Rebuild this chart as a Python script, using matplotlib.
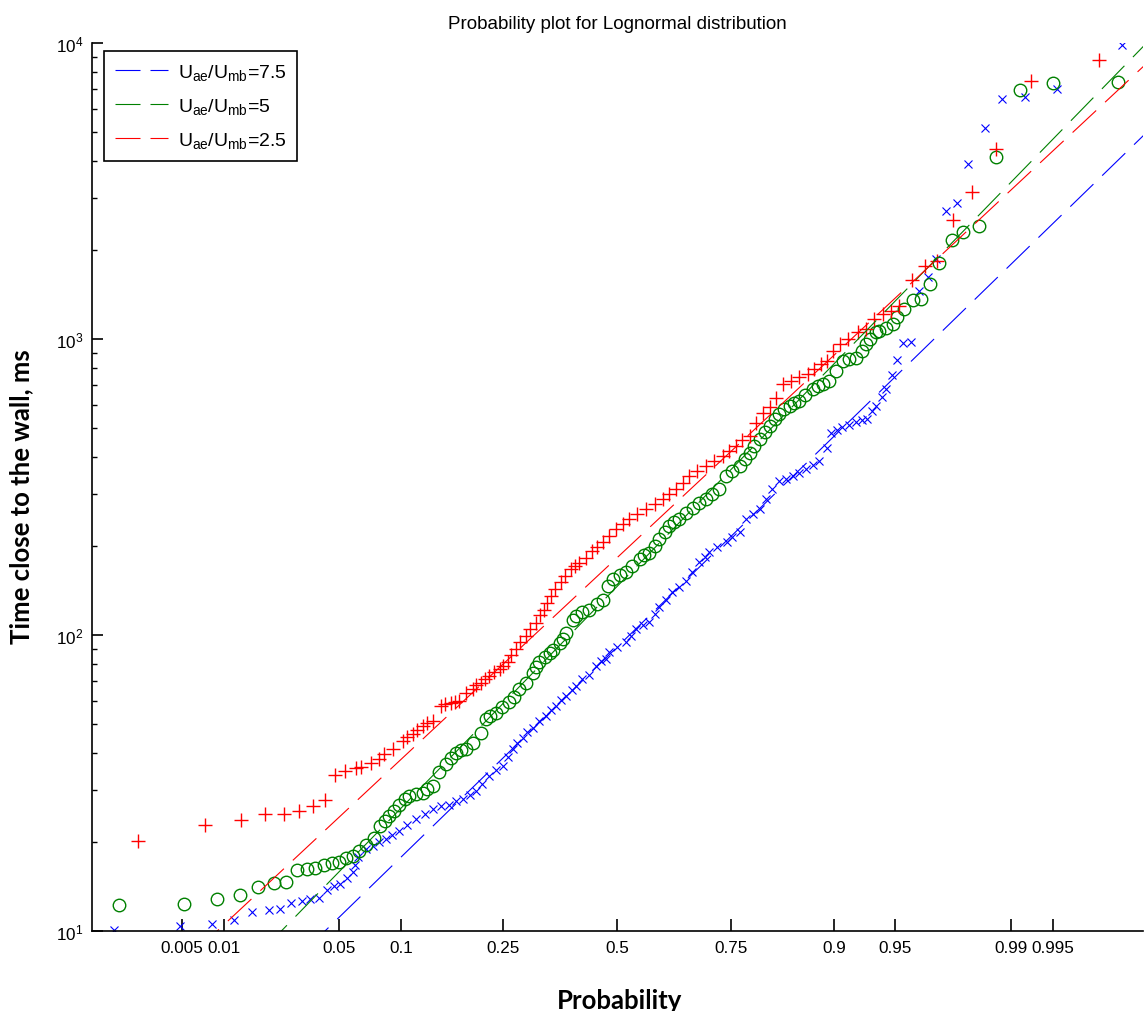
import numpy as np
import matplotlib
matplotlib.use('Agg')
import matplotlib.pyplot as plt
from matplotlib.lines import Line2D
from matplotlib.ticker import LogLocator, NullLocator, FixedLocator, FixedFormatter, LogFormatterSciNotation, NullFormatter
from statistics import NormalDist

plt.rcParams['font.family'] = ['Liberation Sans', 'DejaVu Sans']
plt.rcParams['mathtext.fontset'] = 'custom'
plt.rcParams['mathtext.rm'] = 'Liberation Sans'
plt.rcParams['mathtext.it'] = 'Liberation Sans:italic'
plt.rcParams['mathtext.default'] = 'regular'

# --- data (probability, time in ms) ---
blue_p = [0.00146, 0.00483, 0.00824, 0.0117, 0.0153, 0.0195, 0.0228, 0.0267, 0.0309, 0.0345,
          0.0386, 0.0427, 0.0470, 0.0504, 0.0546, 0.0587, 0.0606, 0.0627, 0.0685, 0.0738,
          0.0796, 0.0855, 0.0916, 0.0985, 0.107, 0.117, 0.127, 0.137, 0.148, 0.160,
          0.170, 0.180, 0.191, 0.202, 0.212, 0.224, 0.237, 0.249, 0.258, 0.268,
          0.277, 0.288, 0.297, 0.308, 0.322, 0.337, 0.348, 0.358, 0.370, 0.381,
          0.393, 0.404, 0.418, 0.434, 0.450, 0.462, 0.473, 0.481, 0.500,
          0.521, 0.533, 0.544, 0.559, 0.575, 0.587, 0.598, 0.614, 0.627, 0.643,
          0.658, 0.671, 0.686, 0.697, 0.707, 0.723, 0.741, 0.752, 0.765, 0.777,
          0.788, 0.800, 0.811, 0.820, 0.831, 0.841, 0.850, 0.859, 0.868, 0.876,
          0.884, 0.892, 0.897, 0.9035, 0.908, 0.915, 0.921, 0.926, 0.930, 0.934,
          0.937, 0.941, 0.944, 0.948, 0.951, 0.9547, 0.9589, 0.9627, 0.9668, 0.9703,
          0.9739, 0.9777, 0.9811, 0.9851, 0.9886, 0.9920, 0.99533, 0.99859]
blue_t = [10.1, 10.4, 10.6, 10.9, 11.6, 11.8, 11.9, 12.5, 12.7, 12.9,
          13.0, 13.8, 14.2, 14.4, 15.1, 15.8, 16.7, 17.8, 18.9, 19.4,
          20.0, 20.5, 21.1, 21.8, 22.8, 23.9, 24.8, 25.8, 26.4, 26.8,
          27.5, 27.9, 28.8, 29.8, 31.4, 33.5, 35.0, 36.2, 38.7, 41.2,
          43.2, 45.1, 47.0, 48.7, 51.2, 53.3, 55.8, 57.7, 60.3, 62.4,
          65.2, 67.4, 71.0, 73.3, 78.6, 81.7, 83.0, 87.6, 91.0,
          94.6, 99.3, 105, 108, 111, 118, 125, 132, 140, 145,
          152, 163, 177, 184, 191, 198, 206, 214, 223, 247,
          256, 267, 288, 311, 331, 336, 344, 353, 364, 375,
          387, 428, 481, 492, 504, 512, 524, 533, 537, 571,
          594, 637, 678, 755, 848, 969, 976, 1455, 1623, 1862,
          2711, 2877, 3900, 5160, 6470, 6590, 7000, 9840]

green_p = [0.00158, 0.00518, 0.00887, 0.0128, 0.0167, 0.0210, 0.0248, 0.0289, 0.0330, 0.0370,
           0.0415, 0.0457, 0.0500, 0.0542, 0.0587, 0.0634, 0.0685, 0.0747, 0.0804, 0.0846,
           0.0887, 0.0935, 0.0985, 0.104, 0.109, 0.117, 0.125, 0.130, 0.137, 0.146,
           0.155, 0.162, 0.170, 0.178, 0.185, 0.196, 0.210, 0.219, 0.226, 0.236,
           0.248, 0.261, 0.271, 0.281, 0.295, 0.308, 0.315, 0.322, 0.335, 0.344,
           0.351, 0.366, 0.373, 0.381, 0.396, 0.404, 0.418, 0.434, 0.451, 0.465,
           0.477, 0.489, 0.505, 0.521, 0.535, 0.552, 0.563, 0.575, 0.587, 0.598,
           0.610, 0.621, 0.632, 0.643, 0.658, 0.672, 0.686, 0.700, 0.713, 0.727,
           0.740, 0.752, 0.765, 0.774, 0.783, 0.791, 0.800, 0.808, 0.816, 0.824,
           0.831, 0.838, 0.846, 0.852, 0.859, 0.867, 0.876, 0.882, 0.888, 0.895,
           0.902, 0.909, 0.915, 0.921, 0.926, 0.9294, 0.9328, 0.9371, 0.9394, 0.9441,
           0.9483, 0.9512, 0.9552, 0.9597, 0.9638, 0.9676, 0.9716, 0.9762, 0.9795, 0.9839,
           0.9875, 0.99132, 0.99500, 0.99846]
green_t = [12.3, 12.4, 12.9, 13.3, 14.1, 14.5, 14.7, 16.1, 16.2, 16.3,
           16.8, 17.0, 17.1, 17.7, 17.9, 18.6, 19.6, 20.7, 22.7, 23.6,
           24.5, 25.4, 26.8, 27.9, 28.6, 29.0, 29.4, 30.2, 31.0, 34.4,
           36.6, 38.4, 40.1, 40.9, 41.2, 43.4, 46.9, 52.0, 53.2, 54.8,
           57.1, 59.3, 61.7, 65.7, 69.2, 74.8, 78.0, 80.9, 84.3, 87.4,
           89.0, 94.4, 96.8, 102, 113, 116, 120, 122, 128, 132,
           147, 155, 160, 163, 172, 181, 186, 190, 200, 211,
           223, 234, 241, 247, 258, 270, 279, 288, 299, 311,
           345, 358, 373, 393, 414, 435, 459, 485, 510, 537,
           558, 580, 596, 608, 619, 647, 678, 694, 705, 723,
           781, 845, 856, 867, 911, 961, 1000, 1054, 1067, 1095,
           1124, 1186, 1262, 1355, 1365, 1534, 1806, 2165, 2304, 2416,
           4130, 6930, 7360, 7420]

red_p = [0.00227, 0.00738, 0.0130, 0.0186, 0.0244, 0.0299, 0.0357, 0.0416, 0.0476, 0.0538,
         0.0610, 0.0647, 0.0725, 0.0795, 0.0840, 0.0918, 0.102, 0.107, 0.113, 0.118,
         0.125, 0.130, 0.137, 0.148, 0.154, 0.163, 0.169, 0.175, 0.185, 0.196,
         0.202, 0.210, 0.217, 0.224, 0.233, 0.243, 0.249, 0.258, 0.265, 0.275,
         0.283, 0.295, 0.303, 0.315, 0.324, 0.333, 0.339, 0.347, 0.357, 0.370,
         0.379, 0.392, 0.402, 0.411, 0.427, 0.441, 0.453, 0.465, 0.481, 0.497,
         0.512, 0.528, 0.547, 0.567, 0.587, 0.606, 0.621, 0.636, 0.650, 0.665,
         0.682, 0.700, 0.717, 0.733, 0.746, 0.759, 0.770, 0.783, 0.794, 0.805,
         0.816, 0.826, 0.836, 0.848, 0.859, 0.870, 0.878, 0.886, 0.892, 0.899,
         0.906, 0.914, 0.9225, 0.9294, 0.9358, 0.9418, 0.9474, 0.9524, 0.9592, 0.9654,
         0.9707, 0.9766, 0.9820, 0.9874, 0.99282, 0.99780]
red_t = [20.2, 22.8, 23.7, 24.8, 24.9, 25.5, 26.4, 27.8, 33.7, 34.8,
         35.5, 36.0, 36.9, 38.1, 39.8, 41.2, 44.0, 45.2, 46.3, 47.7,
         49.2, 50.4, 51.3, 57.7, 58.5, 58.9, 59.6, 60.0, 64.0, 65.7,
         67.7, 69.2, 71.0, 72.9, 75.0, 76.7, 78.7, 80.9, 85.6, 89.7,
         94.7, 99.5, 105, 110, 117, 122, 129, 136, 143, 151,
         158, 167, 172, 176, 183, 192, 198, 206, 216, 228,
         237, 247, 256, 267, 277, 288, 299, 311, 328, 345,
         358, 373, 387, 403, 418, 436, 456, 471, 523, 565,
         589, 635, 705, 723, 748, 762, 792, 823, 845, 913,
         961, 1000, 1054, 1081, 1168, 1215, 1246, 1296, 1585, 1761,
         1839, 2529, 3145, 4405, 7460, 8760]

# lognormal fit lines: log10(median) and log10 sigma
labels = ['U$_{ae}$/U$_{mb}$=7.5', 'U$_{ae}$/U$_{mb}$=5', 'U$_{ae}$/U$_{mb}$=2.5']
fit_mu10 = [1.961, 2.166, 2.263]
fit_s10 = [0.555, 0.586, 0.533]

prob_ticks = [0.005, 0.01, 0.05, 0.1, 0.25, 0.5, 0.75, 0.9, 0.95, 0.99, 0.995]
prob_labels = ['0.005', '0.01', '0.05', '0.1', '0.25', '0.5', '0.75', '0.9', '0.95', '0.99', '0.995']

nd = NormalDist()
_ppf = np.vectorize(nd.inv_cdf, otypes=[float])
_cdf = np.vectorize(nd.cdf, otypes=[float])


def fwd(p):
    p = np.clip(np.asarray(p, dtype=float), 1e-12, 1 - 1e-12)
    return _ppf(p)


def inv(z):
    return _cdf(np.asarray(z, dtype=float))


colors = ['#0000ff', '#008000', '#ff0000']

fig = plt.figure(figsize=(11.44, 10.12), dpi=100)
ax = fig.add_axes([0.0802, 0.0788, 0.919, 0.8775])
ax.set_xscale('function', functions=(fwd, inv))
ax.set_yscale('log')

# markers
ax.plot(blue_p, blue_t, 'x', color=colors[0], ms=5.5, mew=0.8, ls='none')
ax.plot(green_p, green_t, 'o', color=colors[1], mfc='none', ms=9, mew=1.0, ls='none')
ax.plot(red_p, red_t, '+', color=colors[2], ms=10, mew=1.0, ls='none')

# fitted reference lines
zz = np.linspace(-3.3, 3.3, 300)
pp = inv(zz)
for mu, s, c in zip(fit_mu10, fit_s10, colors):
    ax.plot(pp, 10 ** (mu + s * zz), color=c, lw=0.8, dashes=(29, 11))

ax.set_xlim(inv(-3.11), inv(3.11))
ax.set_ylim(10, 1e4)

ax.xaxis.set_major_locator(FixedLocator(prob_ticks))
ax.xaxis.set_major_formatter(FixedFormatter(prob_labels))
ax.xaxis.set_minor_locator(NullLocator())
ax.yaxis.set_major_locator(LogLocator(base=10))
ax.yaxis.set_major_formatter(LogFormatterSciNotation())
ax.yaxis.set_minor_locator(LogLocator(base=10, subs=np.arange(2, 10)))
ax.yaxis.set_minor_formatter(NullFormatter())

ax.spines['top'].set_visible(False)
ax.spines['right'].set_visible(False)
for sp in ['left', 'bottom']:
    ax.spines[sp].set_linewidth(1.2)
ax.tick_params(axis='x', which='major', direction='in', length=8.5, width=1.2,
               labelsize=12.3, pad=6)
ax.tick_params(axis='y', which='major', direction='in', length=8, width=1.2,
               labelsize=12.3, pad=6)
ax.tick_params(axis='y', which='minor', direction='in', length=3.8, width=1.0)

ax.set_title('Probability plot for Lognormal distribution', fontsize=13.5, pad=11)
ax.set_xlabel('Probability', fontsize=18.5, fontweight='bold', family='Lato')
ax.set_ylabel('Time close to the wall, ms', fontsize=18.5, fontweight='bold', family='Lato')
ax.xaxis.set_label_coords(0.5025, -0.064)
ax.yaxis.set_label_coords(-0.0558, 0.491)

handles = [Line2D([], [], color=c, lw=0.8, dashes=(22.5, 9)) for c in colors]
leg = ax.legend(handles, labels, loc='upper left', bbox_to_anchor=(0.0117, 0.9913),
                borderaxespad=0, fontsize=14, handlelength=2.73, handletextpad=0.52,
                borderpad=0.55, labelspacing=0.73, fancybox=False, framealpha=1,
                edgecolor='black')
leg.get_frame().set_linewidth(1.2)

fig.savefig('out.png', dpi=100)
